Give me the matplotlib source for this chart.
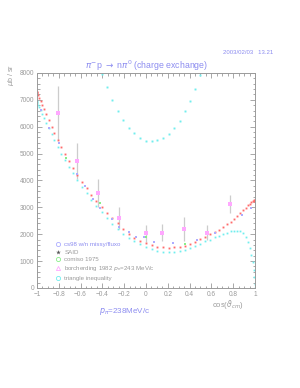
import numpy as np
import matplotlib
matplotlib.use("Agg")
import matplotlib.pyplot as plt
from matplotlib.lines import Line2D

plt.rcParams['font.family'] = ['Liberation Sans', 'DejaVu Sans']
plt.rcParams['mathtext.fontset'] = 'dejavusans'

# model grid in cos(theta) (3 degree steps)
cos_grid = [-1.000, -0.999, -0.995, -0.988, -0.978, -0.966, -0.951, -0.934, -0.914, -0.891,
            -0.866, -0.839, -0.809, -0.777, -0.743, -0.707, -0.669, -0.629, -0.588, -0.545,
            -0.500, -0.454, -0.407, -0.358, -0.309, -0.259, -0.208, -0.156, -0.105, -0.052,
            0.000, 0.052, 0.105, 0.156, 0.208, 0.259, 0.309, 0.358, 0.407, 0.454,
            0.500, 0.545, 0.588, 0.629, 0.669, 0.707, 0.743, 0.777, 0.809, 0.839,
            0.866, 0.891, 0.914, 0.934, 0.951, 0.966, 0.978, 0.988, 0.995, 0.999, 1.000]

said_curve = [7300, 7280, 7240, 7170, 7080, 6960, 6820, 6650, 6460, 6240,
              6000, 5760, 5500, 5240, 4980, 4720, 4460, 4200, 3950, 3710,
              3470, 3240, 3010, 2800, 2600, 2400, 2200, 2020, 1870, 1750,
              1660, 1590, 1540, 1510, 1500, 1510, 1530, 1570, 1630, 1720,
              1810, 1900, 1990, 2080, 2170, 2260, 2360, 2470, 2580, 2690,
              2800, 2900, 2990, 3070, 3130, 3180, 3220, 3250, 3270, 3280, 3280]

tri_low = [6950, 6930, 6880, 6800, 6720, 6620, 6480, 6320, 6150, 5950,
           5720, 5500, 5250, 5000, 4760, 4500, 4260, 4000, 3770, 3520,
           3280, 3050, 2810, 2600, 2390, 2200, 2020, 1870, 1740, 1620,
           1520, 1440, 1380, 1340, 1320, 1330, 1360, 1410, 1480, 1560,
           1640, 1730, 1800, 1880, 1950, 2010, 2060, 2100, 2130, 2130,
           2100, 2030, 1900, 1720, 1480, 1220, 960, 660, 400, 160, 0]

tri_up_x = [-0.407, -0.358, -0.309, -0.259, -0.208, -0.156, -0.105, -0.052, 0.000, 0.052,
            0.105, 0.156, 0.208, 0.259, 0.309, 0.358, 0.407, 0.454, 0.500]
tri_up = [7950, 7470, 7010, 6600, 6245, 5960, 5750, 5565, 5475, 5450,
          5490, 5580, 5725, 5935, 6230, 6580, 6960, 7420, 7920]

cs98_x = [-0.963, -0.887, -0.796, -0.636, -0.560, -0.483, -0.420, -0.310, -0.250, -0.160,
          -0.095, -0.015, 0.076, 0.250, 0.470, 0.630, 0.880, 0.960]
cs98_y = [6620, 5940, 5390, 4240, 3790, 3300, 2990, 2550, 2250, 2090,
          1910, 1900, 1690, 1660, 1785, 2030, 2710, 2960]

comiso_x = [-0.735, -0.420, 0.000, 0.355]
comiso_y = [4850, 3170, 1900, 1640]

borch_x = [-0.810, -0.636, -0.443, -0.245, 0.000, 0.150, 0.350, 0.560, 0.770]
borch_y = [6500, 4720, 3520, 2610, 2030, 2060, 2180, 2060, 3110]
borch_err = [1000, 680, 520, 400, 320, 310, 450, 280, 330]

grey = '#9a9a9a'
lav = '#8c8cf0'
red = '#ff6b6b'
cyan = '#70eeee'
pink = '#ffa8ff'
green = '#88ee88'
blue = '#acacff'

fig = plt.figure(figsize=(3.0, 3.88), dpi=100)
ax = fig.add_axes([0.123, 0.258, 0.727, 0.554])

ax.errorbar(borch_x, borch_y, yerr=borch_err, fmt='none', ecolor='#cccccc', elinewidth=0.9, capsize=0)
ax.plot(cos_grid, tri_low, 's', color=cyan, ms=1.3, mew=0)
ax.plot(tri_up_x, tri_up, 's', color=cyan, ms=1.4, mew=0)
ax.plot(cos_grid, said_curve, 's', color=red, ms=1.35, mew=0)
ax.plot(cs98_x, cs98_y, 's', color=blue, ms=2.1, mew=0)
ax.plot(comiso_x, comiso_y, 's', color=green, ms=2.1, mew=0)
ax.plot(borch_x, borch_y, 's', color=pink, ms=2.6, mew=0)

ax.set_xlim(-1, 1)
ax.set_ylim(0, 8000)
ax.set_xticks(np.arange(-1, 1.01, 0.2))
ax.set_xticks(np.arange(-1, 1.01, 0.05), minor=True)
ax.set_yticks(np.arange(0, 8001, 1000))
ax.set_yticks(np.arange(0, 8001, 200), minor=True)
ax.set_xticklabels(['\u22121', '\u22120.8', '\u22120.6', '\u22120.4', '\u22120.2', '0',
                    '0.2', '0.4', '0.6', '0.8', '1'])
ax.tick_params(which='both', direction='in', top=True, right=True, color=grey,
               labelcolor=grey, labelsize=4.7, width=0.6, pad=2)
ax.tick_params(which='major', length=3.5)
ax.tick_params(which='minor', length=1.8)
for s in ax.spines.values():
    s.set_color(grey)
    s.set_linewidth(0.7)

handles = [
    Line2D([], [], marker='o', ls='none', mfc='none', mec=blue, ms=3, mew=0.6),
    Line2D([], [], marker='*', ls='none', color='#555555', ms=3.5, mew=0),
    Line2D([], [], marker='o', ls='none', mfc='none', mec=green, ms=3, mew=0.6),
    Line2D([], [], marker='^', ls='none', mfc='none', mec=pink, ms=3, mew=0.6),
    Line2D([], [], marker='o', ls='none', mfc='none', mec=cyan, ms=3, mew=0.6),
]
labels = ['cs98 w/n missy/fluxo', 'SAID', 'comiso 1975',
          'borcherding 1982 $p_{\\pi}$=243 MeV/c', 'triangle inequality']
leg = ax.legend(handles, labels, loc='upper left', bbox_to_anchor=(0.07, 0.225),
                frameon=False, fontsize=4.4, handlelength=1.0, handletextpad=0.6,
                labelspacing=0.35, borderaxespad=0)
for i, t in enumerate(leg.get_texts()):
    t.set_color(lav if i == 0 else grey)

fig.text(0.487, 0.813, '$\\pi^{-}$p $\\rightarrow$ n$\\pi^{0}$ (charge exchange)',
         color=lav, fontsize=6.3, ha='center', va='bottom')
fig.text(0.827, 0.864, '2003/02/03   13.21', color=lav, fontsize=4.3, ha='center', va='center')
fig.text(0.035, 0.806, '$\\mu$b / sr', color=grey, fontsize=5, rotation=90, ha='center', va='center')
fig.text(0.76, 0.214, 'cos($\\vartheta_{cm}$)', color=grey, fontsize=5.5, ha='center', va='center')
fig.text(0.415, 0.198, '$p_{\\pi}$=238MeV/c', color=lav, fontsize=5.8, ha='center', va='center')

fig.savefig('out.png', dpi=100)
